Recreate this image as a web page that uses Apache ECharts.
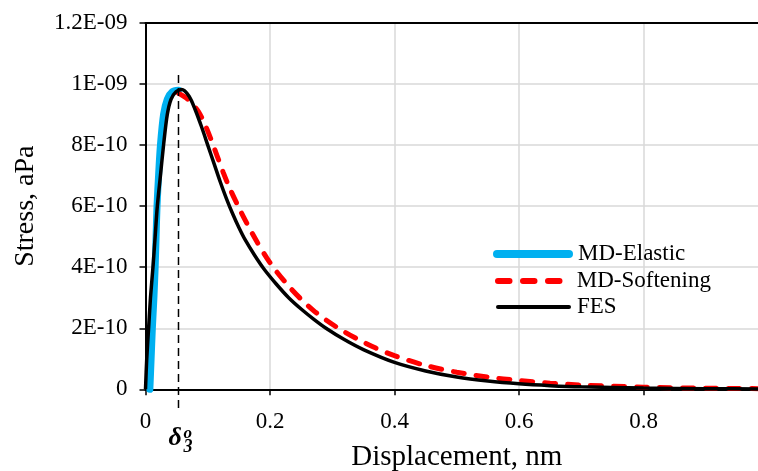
<!DOCTYPE html>
<html><head><meta charset="utf-8">
<script src="https://cdn.jsdelivr.net/npm/echarts@6/dist/echarts.min.js"></script>
<style>html,body{margin:0;padding:0;background:#fff}#c{width:758px;height:471px}</style>
</head><body><div id="c"></div>
<script>
// ---- data ----
const seriesNames = ['MD-Elastic', 'MD-Softening', 'FES'];
const elasticX = [0.007, 0.009, 0.011, 0.0135, 0.0155, 0.017, 0.0185, 0.021, 0.024, 0.029, 0.035, 0.043, 0.053];
const elasticY = [0, 1.0e-10, 2.0e-10, 3.0e-10, 4.0e-10, 5.0e-10, 6.0e-10, 7.0e-10, 8.0e-10, 9.0e-10, 9.5e-10, 9.75e-10, 9.8e-10];
const softX = [0.053, 0.065, 0.075, 0.085, 0.095, 0.105, 0.115, 0.125, 0.135, 0.15, 0.165, 0.18, 0.195, 0.21, 0.23, 0.25, 0.27, 0.29, 0.31, 0.34, 0.37, 0.4, 0.45, 0.5, 0.55, 0.6, 0.65, 0.7, 0.8, 0.9, 1.0];
const softY = [9.7e-10, 9.55e-10, 9.35e-10, 9.1e-10, 8.7e-10, 8.2e-10, 7.65e-10, 7.1e-10, 6.6e-10, 5.95e-10, 5.35e-10, 4.8e-10, 4.3e-10, 3.87e-10, 3.38e-10, 2.95e-10, 2.58e-10, 2.27e-10, 2.0e-10, 1.65e-10, 1.35e-10, 1.1e-10, 0.78e-10, 0.56e-10, 0.4e-10, 0.29e-10, 0.2e-10, 0.14e-10, 0.07e-10, 0.035e-10, 0.02e-10];
const fesX = [0, 0.002, 0.005, 0.008, 0.012, 0.0155, 0.019, 0.024, 0.029, 0.035, 0.041, 0.049, 0.058, 0.07, 0.08, 0.09, 0.10, 0.11, 0.12, 0.13, 0.14, 0.15, 0.16, 0.175, 0.19, 0.21, 0.23, 0.25, 0.27, 0.29, 0.32, 0.35, 0.4, 0.45, 0.5, 0.55, 0.6, 0.65, 0.7, 0.8, 0.9, 1.0];
const fesY = [0, 1.0e-10, 2.0e-10, 3.0e-10, 4.0e-10, 5.0e-10, 6.0e-10, 7.0e-10, 8.0e-10, 9.0e-10, 9.5e-10, 9.75e-10, 9.82e-10, 9.6e-10, 9.15e-10, 8.6e-10, 8.0e-10, 7.4e-10, 6.8e-10, 6.25e-10, 5.75e-10, 5.3e-10, 4.9e-10, 4.4e-10, 3.95e-10, 3.45e-10, 3.0e-10, 2.63e-10, 2.3e-10, 2.0e-10, 1.62e-10, 1.3e-10, 0.88e-10, 0.6e-10, 0.4e-10, 0.27e-10, 0.18e-10, 0.12e-10, 0.08e-10, 0.04e-10, 0.02e-10, 0.01e-10];
const xTicks = { min: 0, max: 1, interval: 0.2 };
const yTicks = { min: 0, max: 1.2e-9, interval: 2e-10 };
const deltaX = 0.053;        // delta_3^o marker position (nm)
const deltaTop = 1.03e-9;    // top of the dashed marker
// ---- chart ----
const FONT = "'Liberation Serif', 'Times New Roman', serif";
const zip = (xs, ys) => xs.map((x, i) => [x, ys[i]]);
function sciFmt(v) {
  if (Math.abs(v) < 1e-20) return '0';
  const e = Math.floor(Math.log10(Math.abs(v)) + 1e-9);
  const m = +(v / Math.pow(10, e)).toFixed(2);
  const ae = Math.abs(e);
  return m + 'E' + (e < 0 ? '-' : '+') + (ae < 10 ? '0' + ae : ae);
}
const colors = ['#00b0f0', '#ff0000', '#000000'];
const legendText = { fontFamily: FONT, fontSize: 23, color: '#000', lineHeight: 24 };
function legendBox(name, color, icon, left, centerY, w, h, padLeft) {
  return {
    orient: 'vertical', left: left, top: centerY - 12, padding: 0, selectedMode: false,
    itemWidth: w, itemHeight: h,
    textStyle: Object.assign({}, legendText, { padding: [0, 0, 0, padLeft] }),
    data: [{ name: name, icon: icon, itemStyle: { color: color, borderWidth: 0 } }]
  };
}
const chart = echarts.init(document.getElementById('c'), null, { renderer: 'canvas' });
chart.setOption({
  animation: false,
  backgroundColor: '#fff',
  textStyle: { fontFamily: FONT },
  grid: { left: 145.5, top: 23, right: -10, bottom: 81.7, containLabel: false, outerBoundsMode: 'none' },
  legend: [
    legendBox(seriesNames[0], colors[0], 'path://M4,0H76A4,4 0 0 1 76,8H4A4,4 0 0 1 4,0Z', 493, 254, 80, 8, 0),
    legendBox(seriesNames[1], colors[1], 'path://M3,0H14.5A3,3 0 0 1 14.5,6H3A3,3 0 0 1 3,0Z M28,0H39.5A3,3 0 0 1 39.5,6H28A3,3 0 0 1 28,0Z M53,0H64.5A3,3 0 0 1 64.5,6H53A3,3 0 0 1 53,0Z', 495, 281, 68, 6, 9),
    legendBox(seriesNames[2], colors[2], 'path://M2,0H73A2,2 0 0 1 73,4H2A2,2 0 0 1 2,0Z', 496, 307, 75, 4.5, 1)
  ],
  xAxis: [{
    type: 'value', min: xTicks.min, max: xTicks.max, interval: xTicks.interval,
    name: 'Displacement, nm', nameLocation: 'middle', nameGap: 54,
    nameTextStyle: { fontFamily: FONT, fontSize: 29, color: '#000' },
    axisLine: { onZero: false, lineStyle: { color: '#000', width: 2 } },
    axisTick: { show: true, inside: false, length: 6, lineStyle: { color: '#000', width: 1.5 } },
    axisLabel: { fontFamily: FONT, fontSize: 23, color: '#000', margin: 21, formatter: v => String(+v.toFixed(2)) },
    splitLine: { show: true, lineStyle: { color: '#d9d9d9', width: 1.5 } }
  }, {
    type: 'value', position: 'top', min: xTicks.min, max: xTicks.max,
    axisLine: { show: true, onZero: false, lineStyle: { color: '#000', width: 2 } },
    axisTick: { show: false }, axisLabel: { show: false }, splitLine: { show: false }
  }],
  yAxis: {
    type: 'value', min: yTicks.min, max: yTicks.max, interval: yTicks.interval,
    name: 'Stress, aPa', nameLocation: 'middle', nameGap: 106, nameRotate: 90,
    nameTextStyle: { fontFamily: FONT, fontSize: 28, color: '#000' },
    axisLine: { show: true, onZero: false, lineStyle: { color: '#000', width: 2 } },
    axisTick: { show: true, inside: false, length: 6, lineStyle: { color: '#000', width: 1.5 } },
    axisLabel: { fontFamily: FONT, fontSize: 23, color: '#000', margin: 18, formatter: sciFmt },
    splitLine: { show: true, lineStyle: { color: '#d9d9d9', width: 1.5 } }
  },
  series: [
    { name: seriesNames[0], type: 'line', data: zip(elasticX, elasticY), showSymbol: false, symbol: 'none', smooth: 0.3, clip: false,
      lineStyle: { color: colors[0], width: 7, cap: 'round' }, itemStyle: { color: colors[0] }, z: 2 },
    { name: seriesNames[1], type: 'line', data: zip(softX, softY), showSymbol: false, symbol: 'none', smooth: 0.3,
      lineStyle: { color: colors[1], width: 5, type: [11, 12], cap: 'round' }, itemStyle: { color: colors[1] }, z: 3 },
    { name: seriesNames[2], type: 'line', data: zip(fesX, fesY), showSymbol: false, symbol: 'none', smooth: 0.3, clip: false,
      lineStyle: { color: colors[2], width: 3.5 }, itemStyle: { color: colors[2] }, z: 4 }
  ]
});
function drawMarker() {
  const top = chart.convertToPixel({ xAxisIndex: 0, yAxisIndex: 0 }, [deltaX, deltaTop]);
  const base = chart.convertToPixel({ xAxisIndex: 0, yAxisIndex: 0 }, [deltaX, 0]);
  chart.setOption({
    graphic: [
      { type: 'line', z: 10, shape: { x1: top[0], y1: top[1], x2: base[0], y2: base[1] + 23 },
        style: { stroke: '#000', lineWidth: 1.5, lineDash: [8, 5] } },
      { type: 'text', z: 10, x: top[0] - 10, y: base[1] + 36,
        style: { text: 'δ', font: "italic bold 26px 'Liberation Serif', serif", fill: '#000' } },
      { type: 'text', z: 10, x: top[0] + 5, y: base[1] + 36,
        style: { text: 'o', font: "italic bold 17px 'Liberation Serif', serif", fill: '#000' } },
      { type: 'text', z: 10, x: top[0] + 5, y: base[1] + 49,
        style: { text: '3', font: "italic bold 18px 'Liberation Serif', serif", fill: '#000' } }
    ]
  });
}
drawMarker();
</script>
</body></html>
